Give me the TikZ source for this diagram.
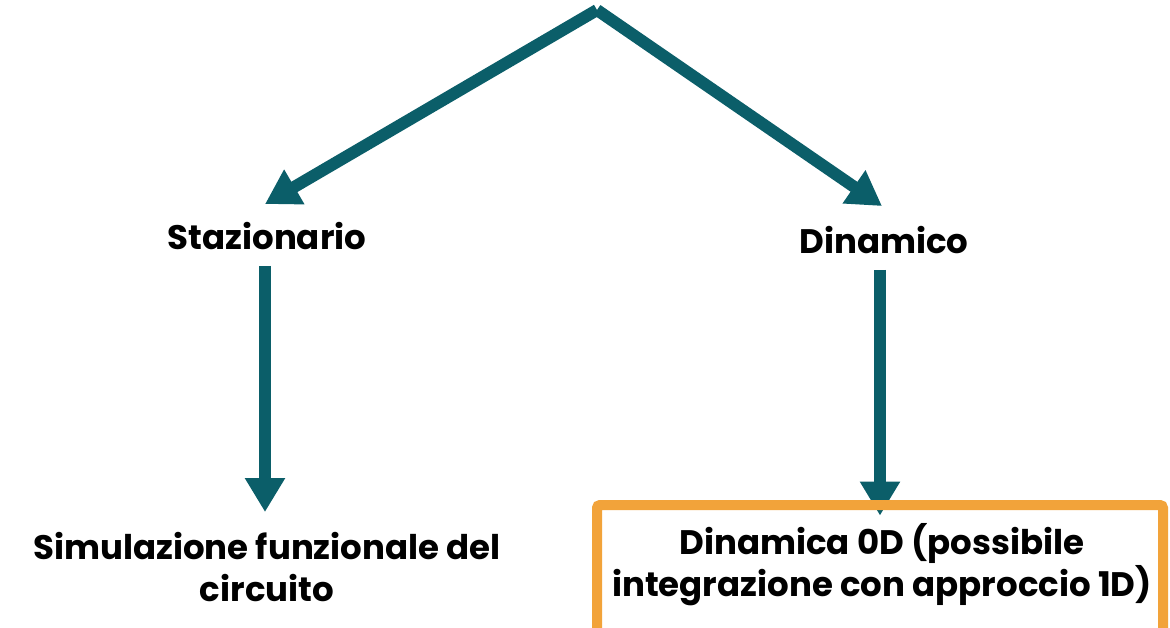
\documentclass[tikz,border=0pt]{standalone}
\usepackage{fontspec}
\setmainfont{Poppins}
\usetikzlibrary{arrows.meta,calc}
\definecolor{teal}{HTML}{0B5E69}
\definecolor{orng}{HTML}{F2A33A}
\begin{document}
\begin{tikzpicture}[x=1pt,y=-1pt,
  lbl/.style={font=\fontsize{34}{42}\selectfont\bfseries, align=center, inner sep=0pt, text=black},
  conn/.style={draw=teal, line width=12pt, -{Triangle[width=38pt,length=34pt]}},
  obox/.style={draw=orng, line width=10pt, rounded corners=3pt}]
\useasboundingbox (0,0) rectangle (1170,627);
\coordinate (top) at (597,10);
\node[lbl] (staz) at (267,236) {Stazionario};
\node[lbl] (dyn) at (884,240) {Dinamico};
\node[lbl] (sim) at (267,567) {Simulazione funzionale del\\circuito};
\node[lbl] (d0) at (882,565) {Dinamica 0D (possibile\\integrazione con approccio 1D)};
\draw[conn] (top) -- ($(staz.north)+(-2,-18)$);
\draw[conn] (top) -- ($(dyn.north)+(-2,-20)$);
\draw[conn] ($(staz.south)+(-2,16)$) -- ($(sim.north)+(-2,-20)$);
\draw[conn] ($(dyn.south)+(-4,16)$) -- ($(d0.north)+(-2,-8)$);
\draw[obox] (597,505) rectangle (1163,645);
\end{tikzpicture}
\end{document}
